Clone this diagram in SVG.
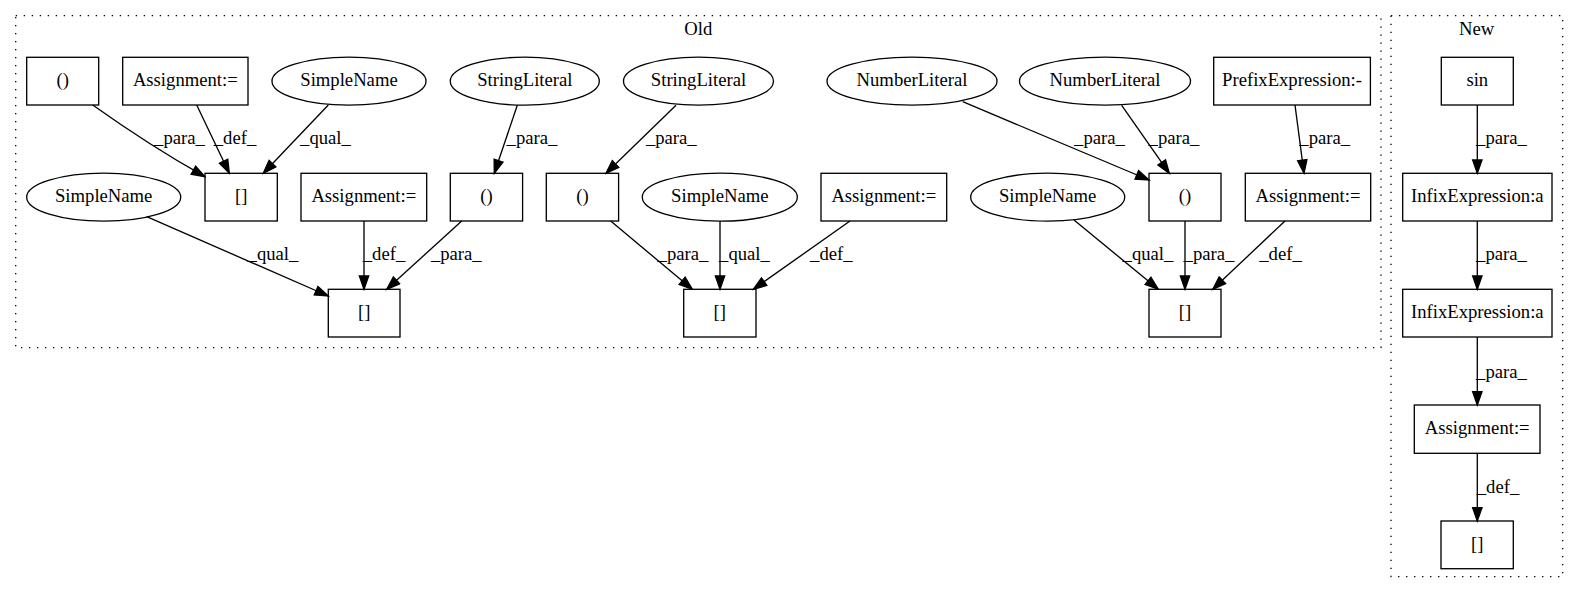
<svg xmlns="http://www.w3.org/2000/svg" width="1579" height="596" viewBox="0 0 1579 596" font-family="'Liberation Serif', 'DejaVu Serif', serif">
<style>
text { font-family: 'Liberation Serif', 'DejaVu Serif', serif; font-size: 18.67px; fill: #000; text-anchor: middle; }
.n rect, .n ellipse { fill: none; stroke: #000; stroke-width: 1.33; }
.cl { fill: none; stroke: #000; stroke-width: 1.33; stroke-dasharray: 1.33 6.67; }
.e path { fill: none; stroke: #000; stroke-width: 1.33; marker-end: url(#arr); }
</style>
<defs>
<marker id="arr" markerUnits="userSpaceOnUse" markerWidth="16" markerHeight="12" refX="13.3" refY="4.67" orient="auto" viewBox="-1 -1 16 12">
<path d="M0,0 L13.3,4.67 L0,9.33 Z" fill="#000" stroke="#000" stroke-width="1.33"/>
</marker>
</defs>
<rect width="1579" height="596" fill="#fff"/>
<g id="cluster_old">
<rect class="cl" x="15.7" y="15.7" width="1365.3" height="332"/>
<text x="698.3" y="35">Old</text>
</g>
<g id="cluster_new">
<rect class="cl" x="1391" y="15.7" width="171.7" height="561"/>
<text x="1476.7" y="35">New</text>
</g>
<g id="edges" class="e">
<path d="M92.7,105 C118,123 152,147 205,176.7"/>
<path d="M196.7,105 L229.3,173.3"/>
<path d="M328.3,105 L263.3,173.3"/>
<path d="M146.7,216.7 L328.3,296"/>
<path d="M364,221 L364,289.3"/>
<path d="M461.7,221 L386.7,289.3"/>
<path d="M517.3,105.3 L494.3,173.3"/>
<path d="M676,105.3 L606,173.3"/>
<path d="M610.7,221 L692.3,289.3"/>
<path d="M720,221 L720,289.3"/>
<path d="M850,221 L753.3,289.3"/>
<path d="M962.7,101.7 L1149,180"/>
<path d="M1121.7,105.3 L1169.3,173.3"/>
<path d="M1295,105 L1304,173.3"/>
<path d="M1074,220 L1158.3,289.3"/>
<path d="M1185,221 L1185,289.3"/>
<path d="M1285,221 L1212.7,289.3"/>
<path d="M1477.3,105 L1477.3,173.3"/>
<path d="M1477.3,221 L1477.3,289.3"/>
<path d="M1477.3,337 L1477.3,405"/>
<path d="M1477.3,453 L1477.3,521"/>
<text x="179.5" y="144">_para_</text>
<text x="235" y="144">_def_</text>
<text x="325.5" y="144">_qual_</text>
<text x="273" y="260">_qual_</text>
<text x="384" y="260">_def_</text>
<text x="456.3" y="260">_para_</text>
<text x="532" y="144">_para_</text>
<text x="671.3" y="144">_para_</text>
<text x="683" y="260">_para_</text>
<text x="744.5" y="260">_qual_</text>
<text x="831.3" y="260">_def_</text>
<text x="1099.5" y="144">_para_</text>
<text x="1174" y="144">_para_</text>
<text x="1324.7" y="144">_para_</text>
<text x="1148" y="260">_qual_</text>
<text x="1209" y="260">_para_</text>
<text x="1280.5" y="260">_def_</text>
<text x="1501.5" y="144">_para_</text>
<text x="1501.5" y="260">_para_</text>
<text x="1501.5" y="378">_para_</text>
<text x="1498" y="493">_def_</text>
</g>
<g id="n_paren1" class="n"><rect x="26.7" y="57.3" width="72" height="47.7"/><text x="62.7" y="86">()</text></g>
<g id="n_assign1" class="n"><rect x="122.7" y="57.3" width="125.3" height="47.7"/><text x="185.3" y="86">Assignment:=</text></g>
<g id="n_simplename1" class="n"><ellipse cx="349" cy="81.2" rx="77" ry="24"/><text x="349" y="86">SimpleName</text></g>
<g id="n_stringlit1" class="n"><ellipse cx="524.8" cy="81.2" rx="74.5" ry="24"/><text x="524.8" y="86">StringLiteral</text></g>
<g id="n_stringlit2" class="n"><ellipse cx="698.5" cy="81.2" rx="75" ry="24"/><text x="698.5" y="86">StringLiteral</text></g>
<g id="n_numlit1" class="n"><ellipse cx="912" cy="81.2" rx="85" ry="24"/><text x="912" y="86">NumberLiteral</text></g>
<g id="n_numlit2" class="n"><ellipse cx="1105" cy="81.2" rx="85.5" ry="24"/><text x="1105" y="86">NumberLiteral</text></g>
<g id="n_prefix" class="n"><rect x="1213.7" y="57.3" width="156.7" height="47.7"/><text x="1292" y="86">PrefixExpression:-</text></g>
<g id="n_sin" class="n"><rect x="1441.3" y="57.3" width="72" height="47.7"/><text x="1477.3" y="86">sin</text></g>
<g id="n_simplename2" class="n"><ellipse cx="103.7" cy="197.2" rx="77" ry="24"/><text x="103.7" y="202">SimpleName</text></g>
<g id="n_idx1" class="n"><rect x="205" y="173.3" width="72.3" height="47.7"/><text x="241.2" y="202">[]</text></g>
<g id="n_assign2" class="n"><rect x="301" y="173.3" width="125.7" height="47.7"/><text x="363.8" y="202">Assignment:=</text></g>
<g id="n_paren2" class="n"><rect x="450.3" y="173.3" width="72.3" height="47.7"/><text x="486.5" y="202">()</text></g>
<g id="n_paren3" class="n"><rect x="546.3" y="173.3" width="72.3" height="47.7"/><text x="582.5" y="202">()</text></g>
<g id="n_simplename3" class="n"><ellipse cx="719.8" cy="197.2" rx="77.5" ry="24"/><text x="719.8" y="202">SimpleName</text></g>
<g id="n_assign3" class="n"><rect x="821" y="173.3" width="125.7" height="47.7"/><text x="883.8" y="202">Assignment:=</text></g>
<g id="n_simplename4" class="n"><ellipse cx="1047.7" cy="197.2" rx="77" ry="24"/><text x="1047.7" y="202">SimpleName</text></g>
<g id="n_paren4" class="n"><rect x="1149" y="173.3" width="72" height="47.7"/><text x="1185" y="202">()</text></g>
<g id="n_assign4" class="n"><rect x="1245.3" y="173.3" width="125.4" height="47.7"/><text x="1308" y="202">Assignment:=</text></g>
<g id="n_infix1" class="n"><rect x="1402.7" y="173.3" width="149.3" height="47.7"/><text x="1477.3" y="202">InfixExpression:a</text></g>
<g id="n_idx2" class="n"><rect x="328.3" y="289.3" width="71.7" height="47.7"/><text x="364.2" y="318">[]</text></g>
<g id="n_idx3" class="n"><rect x="683.7" y="289.3" width="72.3" height="47.7"/><text x="719.8" y="318">[]</text></g>
<g id="n_idx4" class="n"><rect x="1149" y="289.3" width="72" height="47.7"/><text x="1185" y="318">[]</text></g>
<g id="n_infix2" class="n"><rect x="1402.7" y="289.3" width="149.3" height="47.7"/><text x="1477.3" y="318">InfixExpression:a</text></g>
<g id="n_assign5" class="n"><rect x="1414.3" y="405" width="125.7" height="48.3"/><text x="1477.2" y="434">Assignment:=</text></g>
<g id="n_idx5" class="n"><rect x="1441" y="521" width="72.3" height="47.7"/><text x="1477.2" y="550">[]</text></g>
</svg>
